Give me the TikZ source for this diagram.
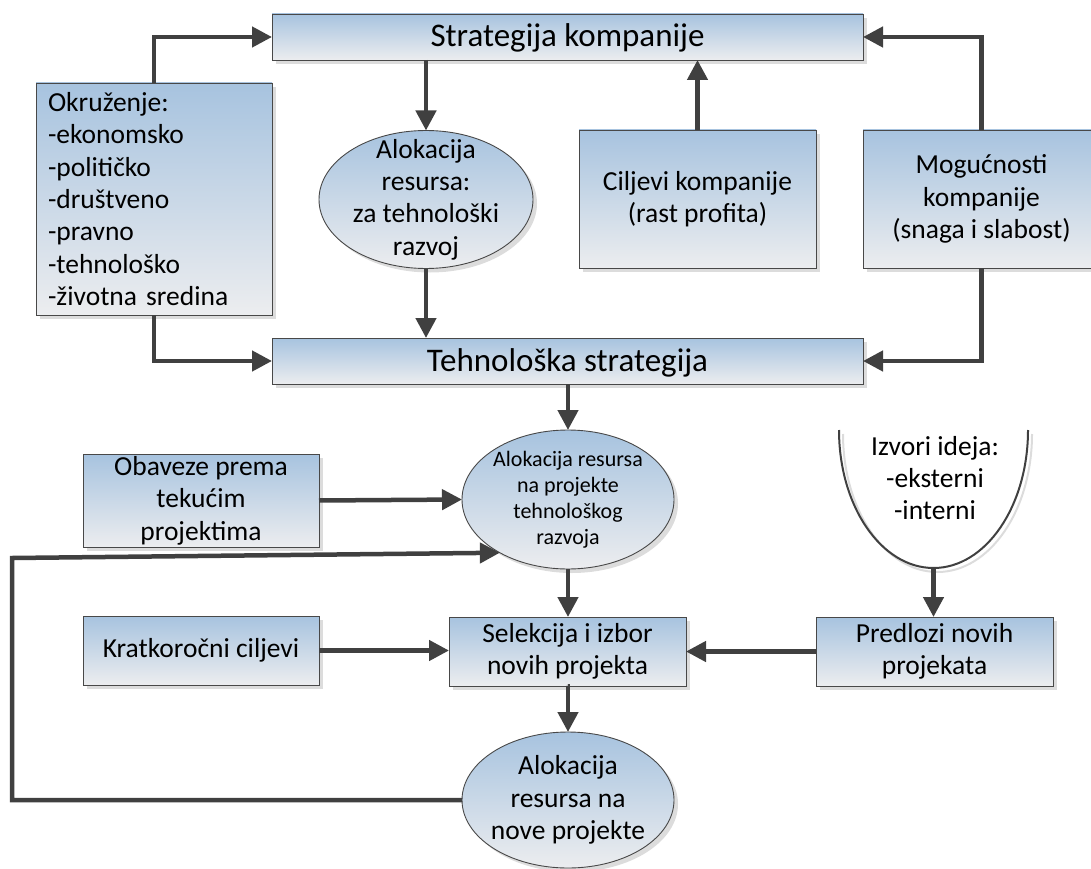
\documentclass[tikz,border=0pt]{standalone}
\usepackage{fontspec}
\setmainfont{Carlito}
\usetikzlibrary{arrows.meta,shapes.geometric,shadows}

\definecolor{topblue}{RGB}{167,195,223}
\definecolor{botgray}{RGB}{236,237,239}
\definecolor{edgecol}{RGB}{72,72,72}
\definecolor{wirecol}{RGB}{64,64,64}
\definecolor{shadecol}{RGB}{220,220,220}

\newcommand{\dgtext}{\fontsize{27.5pt}{32.4pt}\selectfont}
\newcommand{\dgtitle}{\fontsize{33pt}{38pt}\selectfont}
\newcommand{\dgsmall}{\fontsize{22pt}{25.9pt}\selectfont}

\tikzset{
  shapebase/.style={draw=edgecol, line width=0.9pt, top color=topblue, bottom color=botgray,
    inner sep=0pt, outer sep=0pt,
    drop shadow={shadow xshift=4pt, shadow yshift=-4pt, fill=shadecol, opacity=1}},
  box/.style={shapebase, rectangle, align=center, font=\dgtext},
  titlebox/.style={shapebase, rectangle, align=center, font=\dgtitle,
    text height=23.5pt, text depth=3.5pt,
    minimum width=591pt, minimum height=46pt},
  ell/.style={shapebase, ellipse},
  txt/.style={align=center, font=\dgtext, inner sep=0pt},
  arr/.style={draw=wirecol, line width=4.5pt, -{Triangle[length=20pt,width=20pt]}},
}

\begin{document}
\begin{tikzpicture}[x=1pt,y=-1pt]
\useasboundingbox (0,0) rectangle (1091,869);
\clip (0,0) rectangle (1091,869);

% upper block
\node[titlebox] (SK) at (567.5,37) {Strategija kompanije};
\node[box, align=left, text width=212pt, inner xsep=12pt, minimum height=232pt] (OK) at (154,199)
  {Okruženje:\\-ekonomsko\\-političko\\-društveno\\-pravno\\-tehnološko\\-životna sredina};
\node[ell, minimum width=214pt, minimum height=138pt] (A1) at (426,199.5) {};
\node[txt] at (A1) {Alokacija\\resursa:\\za tehnološki\\razvoj};
\node[box, minimum width=237pt, minimum height=138pt] (CK) at (697.5,199) {Ciljevi kompanije\\(rast profita)};
\node[box, minimum width=237pt, minimum height=138pt] (MK) at (981.5,199) {Mogućnosti\\kompanije\\(snaga i slabost)};
\node[titlebox] (TS) at (567.5,361) {Tehnološka strategija};

% lower block
\node[ell, minimum width=212pt, minimum height=139pt] (A2) at (568,499.5) {};
\node[txt, font=\dgsmall] at (A2) {Alokacija resursa\\na projekte\\tehnološkog\\razvoja};
\node[box, minimum width=236pt, minimum height=93pt] (OB) at (201,500.5) {Obaveze prema\\tekućim\\projektima};

% sources of ideas: open half-ellipse
\draw[shadecol, line width=2pt] (843,434) arc[start angle=180, end angle=360, x radius=94.5pt, y radius=138pt];
\draw[wirecol, line width=2pt] (839,430) arc[start angle=180, end angle=360, x radius=94.5pt, y radius=138pt];
\coordinate (IZb) at (933.5,568);
\node[txt] (IZ) at (935,478) {Izvori ideja:\\-eksterni\\-interni};

\node[box, minimum width=236pt, minimum height=69pt] (KC) at (201,650.5) {Kratkoročni ciljevi};
\node[box, minimum width=237pt, minimum height=69pt] (SI) at (567.5,651.5) {Selekcija i izbor\\novih projekta};
\node[box, minimum width=237pt, minimum height=69pt] (PN) at (934.5,651.5) {Predlozi novih\\projekata};
\node[ell, minimum width=212pt, minimum height=136pt] (A3) at (568,800) {};
\node[txt] at (A3) {Alokacija\\resursa na\\nove projekte};

% feedback loop corners
\coordinate (fbl) at (12,800);
\coordinate (fbt) at (12,558);

% connectors
\draw[arr] (OK.north) |- (SK.west);
\draw[arr] (MK.north) |- (SK.east);
\draw[arr] (CK.north) -- (CK.north |- SK.south);
\draw[arr] (A1.north |- SK.south) -- (A1.north);
\draw[arr] (A1.south) -- (A1.south |- TS.north);
\draw[arr] (OK.south) |- (TS.west);
\draw[arr] (MK.south) |- (TS.east);
\draw[arr] (A2.north |- TS.south) -- (A2.north);
\draw[arr] (OB.east) -- (A2.west);
\draw[arr] (A2.south) -- (A2.south |- SI.north);
\draw[arr] (KC.east) -- (KC.east -| SI.west);
\draw[arr] (PN.west) -- (PN.west -| SI.east);
\draw[arr] (IZb) -- (IZb |- PN.north);
\draw[arr] (SI.south) -- (SI.south -| A3.north) -- (A3.north);
\draw[arr] (A3.west) -- (fbl) -- (fbt) -- (A2.218);
\end{tikzpicture}
\end{document}
